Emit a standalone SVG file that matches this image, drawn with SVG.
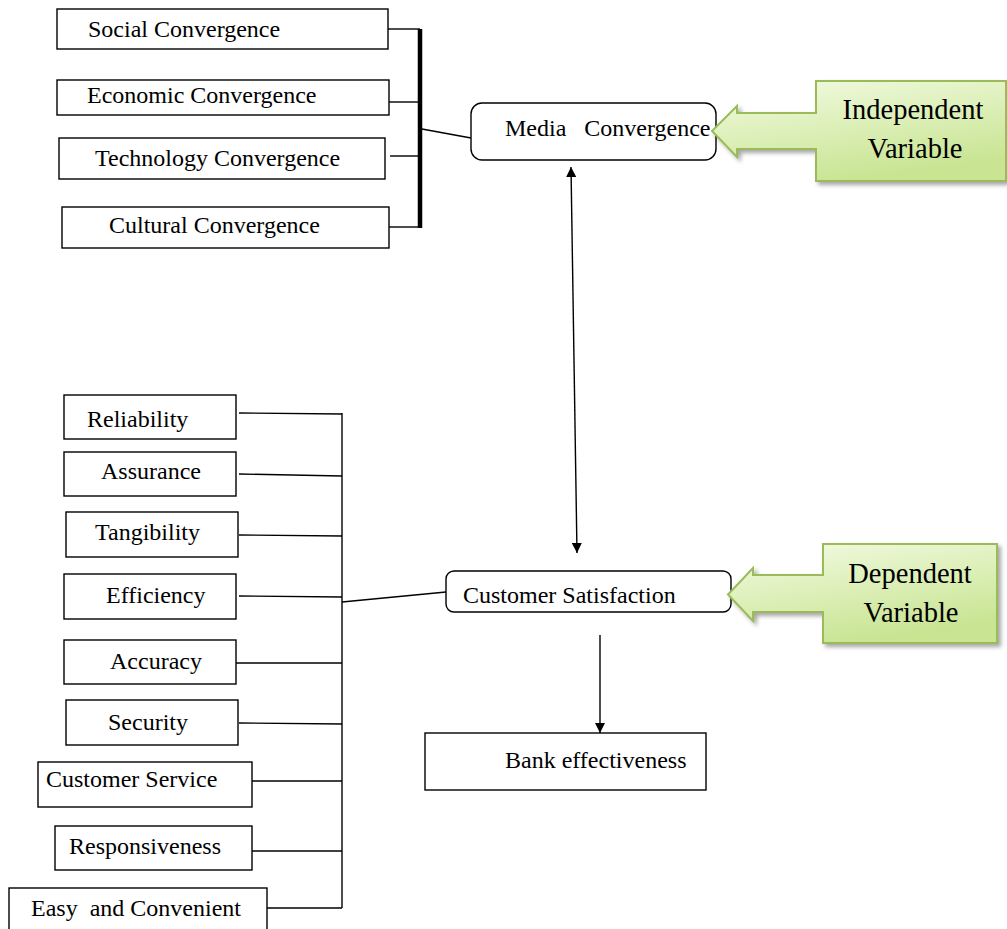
<svg xmlns="http://www.w3.org/2000/svg" width="1007" height="929" viewBox="0 0 1007 929">
<style>
  .box { fill: #ffffff; stroke: #000000; stroke-width: 1.4; }
  .lbl { font-family: "Liberation Serif", "Times New Roman", serif; font-size: 24px; fill: #000000; white-space: pre; }
  .big { font-family: "Liberation Serif", "Times New Roman", serif; font-size: 28.5px; fill: #000000; text-anchor: middle; }
  .ln { stroke: #000000; stroke-width: 1.4; fill: none; }
  .call { fill: url(#grn); stroke: #9bbb59; stroke-width: 2; filter: url(#shd); }
</style>
<defs>
  <linearGradient id="grn" x1="0" y1="0" x2="0.4" y2="1">
    <stop offset="0" stop-color="#f3fbe3"/>
    <stop offset="1" stop-color="#c9e594"/>
  </linearGradient>
  <filter id="shd" x="-10%" y="-10%" width="130%" height="130%">
    <feDropShadow dx="3" dy="3" stdDeviation="2" flood-color="#000000" flood-opacity="0.35"/>
  </filter>
  <marker id="ah" viewBox="0 0 10 10" refX="10" refY="5" markerWidth="10" markerHeight="10" markerUnits="userSpaceOnUse" orient="auto-start-reverse">
    <path d="M0,0 L10,5 L0,10 z" fill="#000000"/>
  </marker>
</defs>

<g id="connectors">
  <line class="ln" x1="388" y1="29" x2="420" y2="29"/>
  <line class="ln" x1="389" y1="102" x2="420" y2="102"/>
  <line class="ln" x1="390" y1="156" x2="420" y2="156"/>
  <line class="ln" x1="389" y1="227" x2="420" y2="227"/>
  <line x1="420" y1="29" x2="420" y2="228" stroke="#000000" stroke-width="4.5"/>
  <line class="ln" x1="422" y1="129" x2="471" y2="138"/>
  <line class="ln" x1="571" y1="167" x2="577" y2="553" marker-start="url(#ah)" marker-end="url(#ah)"/>
  <line class="ln" x1="600" y1="635" x2="600" y2="733" marker-end="url(#ah)"/>
  <line class="ln" x1="342" y1="413" x2="342" y2="908"/>
  <line class="ln" x1="239" y1="413" x2="342" y2="414"/>
  <line class="ln" x1="239" y1="474" x2="342" y2="476"/>
  <line class="ln" x1="239" y1="535" x2="342" y2="536"/>
  <line class="ln" x1="239" y1="596" x2="342" y2="597"/>
  <line class="ln" x1="236" y1="663" x2="342" y2="663"/>
  <line class="ln" x1="239" y1="723" x2="342" y2="724"/>
  <line class="ln" x1="252" y1="781" x2="342" y2="781"/>
  <line class="ln" x1="252" y1="851" x2="342" y2="851"/>
  <line class="ln" x1="267" y1="908" x2="342" y2="908"/>
  <line class="ln" x1="342" y1="602" x2="446" y2="592"/>
</g>

<g id="social"><rect class="box" x="57" y="9" width="331" height="40"/><text class="lbl" x="88" y="36.5">Social Convergence</text></g>
<g id="economic"><rect class="box" x="57" y="80" width="332" height="35"/><text class="lbl" x="87" y="102.5">Economic Convergence</text></g>
<g id="technology"><rect class="box" x="59" y="138" width="326" height="41"/><text class="lbl" x="95" y="166">Technology Convergence</text></g>
<g id="cultural"><rect class="box" x="62" y="207" width="327" height="41"/><text class="lbl" x="109" y="233">Cultural Convergence</text></g>

<g id="media"><rect class="box" x="471" y="103" width="245" height="57" rx="11"/><text class="lbl" x="505" y="136">Media   Convergence</text></g>

<g id="independent">
  <path class="call" d="M816,81 H1006 V181 H816 V149 H737 V157 L712,131 L737,106 V113 H816 Z"/>
  <text class="big" x="913" y="119">Independent</text>
  <text class="big" x="915" y="158">Variable</text>
</g>

<g id="customer-satisfaction"><rect class="box" x="446" y="571" width="285" height="41" rx="8"/><text class="lbl" x="463" y="603">Customer Satisfaction</text></g>

<g id="dependent">
  <path class="call" d="M823,544 H997 V643 H823 V612 H753 V621 L728,594.5 L753,568 V575 H823 Z"/>
  <text class="big" x="910" y="583">Dependent</text>
  <text class="big" x="911" y="622">Variable</text>
</g>

<g id="bank"><rect class="box" x="425" y="733" width="281" height="57"/><text class="lbl" x="505" y="768">Bank effectiveness</text></g>

<g id="reliability"><rect class="box" x="64" y="395" width="172" height="44"/><text class="lbl" x="87" y="427">Reliability</text></g>
<g id="assurance"><rect class="box" x="64" y="452" width="172" height="44"/><text class="lbl" x="101" y="479">Assurance</text></g>
<g id="tangibility"><rect class="box" x="66" y="512" width="172" height="45"/><text class="lbl" x="95" y="540">Tangibility</text></g>
<g id="efficiency"><rect class="box" x="64" y="574" width="172" height="45"/><text class="lbl" x="106" y="603">Efficiency</text></g>
<g id="accuracy"><rect class="box" x="64" y="640" width="172" height="44"/><text class="lbl" x="110" y="669">Accuracy</text></g>
<g id="security"><rect class="box" x="66" y="700" width="172" height="45"/><text class="lbl" x="108" y="730">Security</text></g>
<g id="customer-service"><rect class="box" x="38" y="762" width="214" height="45"/><text class="lbl" x="46" y="787">Customer Service</text></g>
<g id="responsiveness"><rect class="box" x="55" y="826" width="197" height="44"/><text class="lbl" x="69" y="854">Responsiveness</text></g>
<g id="easy"><rect class="box" x="9" y="888" width="258" height="50"/><text class="lbl" x="31" y="916">Easy  and Convenient</text></g>
</svg>
